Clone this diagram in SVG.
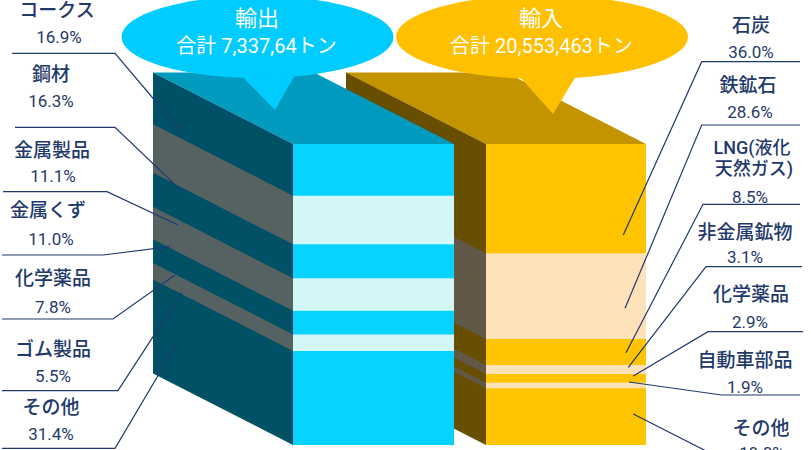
<svg xmlns="http://www.w3.org/2000/svg" width="811" height="450" viewBox="0 0 811 450">
<style>
.lbl{font-family:Roboto,"Noto Sans CJK JP",sans-serif;font-size:19px;font-weight:500;fill:#1F3A6A;text-anchor:middle}
.pct{font-family:Roboto,"Noto Sans CJK JP",sans-serif;font-size:17px;fill:#1F3A6A;text-anchor:middle}
.sm{font-size:18px}
.ttl{font-family:Roboto,"Noto Sans CJK JP",sans-serif;fill:#FFFFFF;text-anchor:middle}
.ln{fill:none;stroke:#1F3A6E;stroke-width:1.2}
</style>
<rect width="811" height="450" fill="#FFFFFF"/>

<!-- Import box (drawn first, behind) -->
<g id="import-box">
  <polygon points="346,72.5 506,72.5 646,144 486,144" fill="#C39300"/>
  <polygon points="346,72.5 486,144 486,445 346,373.5" fill="#684E00"/>
  <polygon points="346,181.8 486,253.3 486,339 346,267.5" fill="#625848"/>
  <polygon points="346,293.5 486,365 486,374 346,302.5" fill="#625848"/>
  <polygon points="346,311.2 486,382.7 486,388.3 346,316.8" fill="#625848"/>
  <rect x="486" y="144" width="160" height="301" fill="#FFC400"/>
  <rect x="486" y="253.3" width="160" height="85.7" fill="#FDE1B9"/>
  <rect x="486" y="365" width="160" height="9" fill="#FDE1B9"/>
  <rect x="486" y="382.7" width="160" height="5.6" fill="#FDE1B9"/>
</g>

<!-- Export box -->
<g id="export-box">
  <polygon points="153,72.5 314,72.5 454,144 293,144" fill="#009BBF"/>
  <polygon points="153,72.5 293,144 293,445 153,373.5" fill="#005166"/>
  <polygon points="153,124.2 293,195.7 293,244.3 153,172.8" fill="#556261"/>
  <polygon points="153,206.8 293,278.3 293,310.8 153,239.3" fill="#556261"/>
  <polygon points="153,263 293,334.5 293,351 153,279.5" fill="#556261"/>
  <rect x="293" y="144" width="161" height="301" fill="#06D3FF"/>
  <rect x="293" y="195.7" width="161" height="48.6" fill="#D3F7F7"/>
  <rect x="293" y="278.3" width="161" height="32.5" fill="#D3F7F7"/>
  <rect x="293" y="334.5" width="161" height="16.5" fill="#D3F7F7"/>
</g>

<!-- Bubbles -->
<g id="export-bubble">
  <ellipse cx="257.5" cy="37" rx="136" ry="41" fill="#00CCFF"/>
  <polygon points="241.7,76 275,110 295,75" fill="#00CCFF"/>
  <text class="ttl" x="257" y="26" font-size="22">輸出</text>
  <text class="ttl" x="256.5" y="53" font-size="20">合計 7,337,64トン</text>
</g>
<g id="import-bubble">
  <ellipse cx="542" cy="37" rx="146" ry="42" fill="#FFC000"/>
  <polygon points="520,77 553,114 576,76" fill="#FFC000"/>
  <text class="ttl" x="541" y="25.5" font-size="22">輸入</text>
  <text class="ttl" x="541.5" y="53" font-size="20">合計 20,553,463トン</text>
</g>

<!-- Connectors -->
<g id="connectors">
  <polyline class="ln" points="12,53.3 115,53.3 183.3,134"/>
  <polyline class="ln" points="15,127.3 115,127.3 181.7,191"/>
  <polyline class="ln" points="3,191.7 107,191.7 178,225"/>
  <polyline class="ln" points="2,255 103,255 170,246.7"/>
  <polyline class="ln" points="2,319 113,319 175,275"/>
  <polyline class="ln" points="2,390.7 118,390.7 181.7,292.7"/>
  <polyline class="ln" points="2,448.3 115,448.3 176.7,344"/>
  <polyline class="ln" points="800,61.7 701.7,61.7 623.3,235"/>
  <polyline class="ln" points="800,125 701.7,125 625,308.3"/>
  <polyline class="ln" points="800,204.3 703,204.3 626,352.7"/>
  <polyline class="ln" points="802,266.7 706,266.7 628.3,367.3"/>
  <polyline class="ln" points="803,331.7 708,331.7 633.3,376"/>
  <polyline class="ln" points="629,382 721.7,395 800,395"/>
  <polyline class="ln" points="633.3,414 712,454"/>
</g>

<!-- Export labels -->
<g id="lbl-coke"><text class="lbl" x="57" y="17">コークス</text><text class="pct" x="59" y="42.5">16.9%</text></g>
<g id="lbl-steel"><text class="lbl" x="51" y="80.5">鋼材</text><text class="pct" x="51" y="107">16.3%</text></g>
<g id="lbl-metalprod"><text class="lbl" x="52" y="156.5">金属製品</text><text class="pct" x="53" y="181.5">11.1%</text></g>
<g id="lbl-scrap"><text class="lbl" x="48" y="216.5">金属くず</text><text class="pct" x="51" y="245">11.0%</text></g>
<g id="lbl-chem-ex"><text class="lbl" x="53" y="285">化学薬品</text><text class="pct" x="53" y="312.5">7.8%</text></g>
<g id="lbl-rubber"><text class="lbl" x="53" y="355.5">ゴム製品</text><text class="pct" x="53" y="381.5">5.5%</text></g>
<g id="lbl-other-ex"><text class="lbl" x="51" y="413.5">その他</text><text class="pct" x="51" y="440">31.4%</text></g>

<!-- Import labels -->
<g id="lbl-coal"><text class="lbl" x="751" y="31.5">石炭</text><text class="pct" x="751" y="58.3">36.0%</text></g>
<g id="lbl-iron"><text class="lbl" x="748" y="92">鉄鉱石</text><text class="pct" x="750" y="118.3">28.6%</text></g>
<g id="lbl-lng"><text class="lbl sm" x="752" y="154">LNG(液化</text><text class="lbl sm" x="754" y="175">天然ガス)</text><text class="pct" x="750" y="203.3">8.5%</text></g>
<g id="lbl-nonmetal"><text class="lbl" x="745" y="238.5">非金属鉱物</text><text class="pct" x="745" y="263">3.1%</text></g>
<g id="lbl-chem-im"><text class="lbl" x="751" y="300.5">化学薬品</text><text class="pct" x="750" y="328">2.9%</text></g>
<g id="lbl-auto"><text class="lbl" x="745" y="367">自動車部品</text><text class="pct" x="745" y="392.5">1.9%</text></g>
<g id="lbl-other-im"><text class="lbl" x="761" y="434.5">その他</text><text class="pct" x="762" y="459">19.0%</text></g>
</svg>
